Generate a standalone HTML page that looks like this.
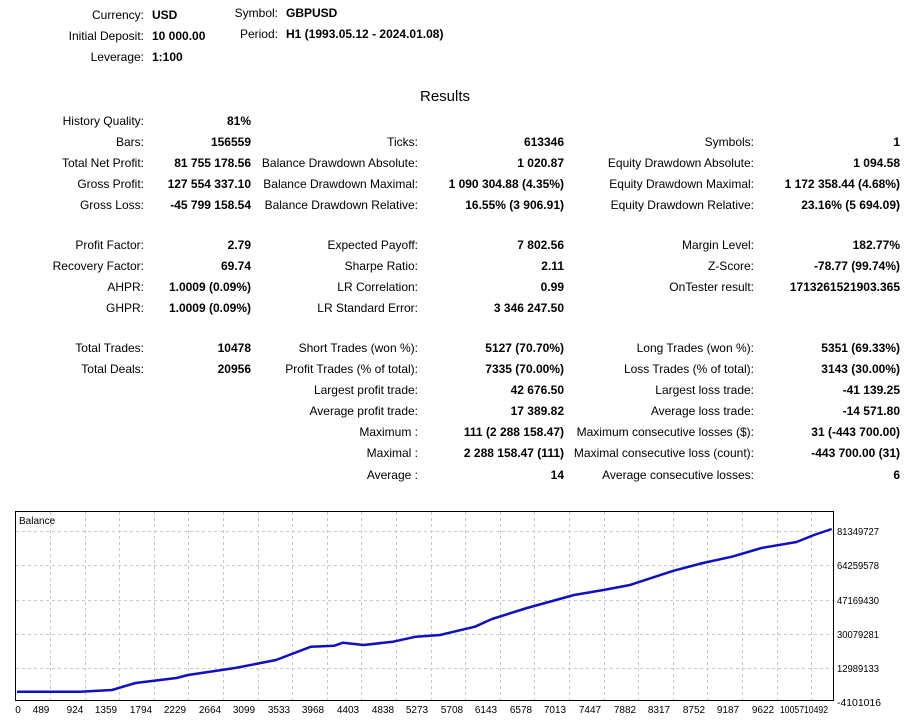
<!DOCTYPE html>
<html><head><meta charset="utf-8"><style>
body{margin:0;width:917px;height:720px;background:#fff;position:relative;overflow:hidden;font-family:"Liberation Sans",Arial,sans-serif;font-size:12px;color:#000}
div.t{position:absolute;line-height:14px;white-space:nowrap}
.b{font-weight:bold}
.l1{right:773px}.v1{right:666px}.l2{right:499px}.v2{right:353px}.l3{right:163px}.v3{right:17px}
</style></head><body>
<div class="t" style="right:773px;top:8px">Currency:</div><div class="t b" style="left:152px;top:8px">USD</div>
<div class="t" style="right:773px;top:29px">Initial Deposit:</div><div class="t b" style="left:152px;top:29px">10 000.00</div>
<div class="t" style="right:773px;top:50px">Leverage:</div><div class="t b" style="left:152px;top:50px">1:100</div>
<div class="t" style="right:639px;top:6px">Symbol:</div><div class="t b" style="left:286px;top:6px">GBPUSD</div>
<div class="t" style="right:639px;top:27px">Period:</div><div class="t b" style="left:286px;top:27px">H1 (1993.05.12 - 2024.01.08)</div>
<div class="t" style="left:0;width:890px;text-align:center;top:90px;font-size:15px">Results</div>

<div class="t l1" style="top:114px">History Quality:</div><div class="t b v1" style="top:114px">81%</div>

<div class="t l1" style="top:135px">Bars:</div><div class="t b v1" style="top:135px">156559</div>
<div class="t l2" style="top:135px">Ticks:</div><div class="t b v2" style="top:135px">613346</div>
<div class="t l3" style="top:135px">Symbols:</div><div class="t b v3" style="top:135px">1</div>

<div class="t l1" style="top:156px">Total Net Profit:</div><div class="t b v1" style="top:156px">81 755 178.56</div>
<div class="t l2" style="top:156px">Balance Drawdown Absolute:</div><div class="t b v2" style="top:156px">1 020.87</div>
<div class="t l3" style="top:156px">Equity Drawdown Absolute:</div><div class="t b v3" style="top:156px">1 094.58</div>

<div class="t l1" style="top:177px">Gross Profit:</div><div class="t b v1" style="top:177px">127 554 337.10</div>
<div class="t l2" style="top:177px">Balance Drawdown Maximal:</div><div class="t b v2" style="top:177px">1 090 304.88 (4.35%)</div>
<div class="t l3" style="top:177px">Equity Drawdown Maximal:</div><div class="t b v3" style="top:177px">1 172 358.44 (4.68%)</div>

<div class="t l1" style="top:198px">Gross Loss:</div><div class="t b v1" style="top:198px">-45 799 158.54</div>
<div class="t l2" style="top:198px">Balance Drawdown Relative:</div><div class="t b v2" style="top:198px">16.55% (3 906.91)</div>
<div class="t l3" style="top:198px">Equity Drawdown Relative:</div><div class="t b v3" style="top:198px">23.16% (5 694.09)</div>

<div class="t l1" style="top:238px">Profit Factor:</div><div class="t b v1" style="top:238px">2.79</div>
<div class="t l2" style="top:238px">Expected Payoff:</div><div class="t b v2" style="top:238px">7 802.56</div>
<div class="t l3" style="top:238px">Margin Level:</div><div class="t b v3" style="top:238px">182.77%</div>

<div class="t l1" style="top:259px">Recovery Factor:</div><div class="t b v1" style="top:259px">69.74</div>
<div class="t l2" style="top:259px">Sharpe Ratio:</div><div class="t b v2" style="top:259px">2.11</div>
<div class="t l3" style="top:259px">Z-Score:</div><div class="t b v3" style="top:259px">-78.77 (99.74%)</div>

<div class="t l1" style="top:280px">AHPR:</div><div class="t b v1" style="top:280px">1.0009 (0.09%)</div>
<div class="t l2" style="top:280px">LR Correlation:</div><div class="t b v2" style="top:280px">0.99</div>
<div class="t l3" style="top:280px">OnTester result:</div><div class="t b v3" style="top:280px">1713261521903.365</div>

<div class="t l1" style="top:301px">GHPR:</div><div class="t b v1" style="top:301px">1.0009 (0.09%)</div>
<div class="t l2" style="top:301px">LR Standard Error:</div><div class="t b v2" style="top:301px">3 346 247.50</div>

<div class="t l1" style="top:341px">Total Trades:</div><div class="t b v1" style="top:341px">10478</div>
<div class="t l2" style="top:341px">Short Trades (won %):</div><div class="t b v2" style="top:341px">5127 (70.70%)</div>
<div class="t l3" style="top:341px">Long Trades (won %):</div><div class="t b v3" style="top:341px">5351 (69.33%)</div>

<div class="t l1" style="top:362px">Total Deals:</div><div class="t b v1" style="top:362px">20956</div>
<div class="t l2" style="top:362px">Profit Trades (% of total):</div><div class="t b v2" style="top:362px">7335 (70.00%)</div>
<div class="t l3" style="top:362px">Loss Trades (% of total):</div><div class="t b v3" style="top:362px">3143 (30.00%)</div>

<div class="t l2" style="top:383px">Largest profit trade:</div><div class="t b v2" style="top:383px">42 676.50</div>
<div class="t l3" style="top:383px">Largest loss trade:</div><div class="t b v3" style="top:383px">-41 139.25</div>

<div class="t l2" style="top:404px">Average profit trade:</div><div class="t b v2" style="top:404px">17 389.82</div>
<div class="t l3" style="top:404px">Average loss trade:</div><div class="t b v3" style="top:404px">-14 571.80</div>

<div class="t l2" style="top:425px">Maximum :</div><div class="t b v2" style="top:425px">111 (2 288 158.47)</div>
<div class="t l3" style="top:425px">Maximum consecutive losses ($):</div><div class="t b v3" style="top:425px">31 (-443 700.00)</div>

<div class="t l2" style="top:446px">Maximal :</div><div class="t b v2" style="top:446px">2 288 158.47 (111)</div>
<div class="t l3" style="top:446px">Maximal consecutive loss (count):</div><div class="t b v3" style="top:446px">-443 700.00 (31)</div>

<div class="t l2" style="top:468px">Average :</div><div class="t b v2" style="top:468px">14</div>
<div class="t l3" style="top:468px">Average consecutive losses:</div><div class="t b v3" style="top:468px">6</div>

<svg style="position:absolute;left:0;top:0" width="917" height="720" font-family="'Liberation Sans',Arial,sans-serif" font-size="10">
<g stroke="#c8c8c8" stroke-dasharray="3,3" stroke-width="1">
<line x1="16" x2="833" y1="531.5" y2="531.5"/><line x1="16" x2="833" y1="565.5" y2="565.5"/><line x1="16" x2="833" y1="600.5" y2="600.5"/><line x1="16" x2="833" y1="634.5" y2="634.5"/><line x1="16" x2="833" y1="668.5" y2="668.5"/>
<line x1="50.5" x2="50.5" y1="512" y2="700"/><line x1="85.5" x2="85.5" y1="512" y2="700"/><line x1="119.5" x2="119.5" y1="512" y2="700"/><line x1="154.5" x2="154.5" y1="512" y2="700"/><line x1="188.5" x2="188.5" y1="512" y2="700"/><line x1="223.5" x2="223.5" y1="512" y2="700"/><line x1="258.5" x2="258.5" y1="512" y2="700"/><line x1="292.5" x2="292.5" y1="512" y2="700"/><line x1="327.5" x2="327.5" y1="512" y2="700"/><line x1="361.5" x2="361.5" y1="512" y2="700"/><line x1="396.5" x2="396.5" y1="512" y2="700"/><line x1="431.5" x2="431.5" y1="512" y2="700"/><line x1="465.5" x2="465.5" y1="512" y2="700"/><line x1="500.5" x2="500.5" y1="512" y2="700"/><line x1="534.5" x2="534.5" y1="512" y2="700"/><line x1="569.5" x2="569.5" y1="512" y2="700"/><line x1="604.5" x2="604.5" y1="512" y2="700"/><line x1="638.5" x2="638.5" y1="512" y2="700"/><line x1="673.5" x2="673.5" y1="512" y2="700"/><line x1="707.5" x2="707.5" y1="512" y2="700"/><line x1="742.5" x2="742.5" y1="512" y2="700"/><line x1="777.5" x2="777.5" y1="512" y2="700"/><line x1="811.5" x2="811.5" y1="512" y2="700"/>
</g>
<rect x="15.5" y="511.5" width="818" height="189" fill="none" stroke="#000"/>
<text x="19" y="524">Balance</text>
<polyline fill="none" stroke="#1010c0" stroke-width="2.5" stroke-linejoin="round" points="17,691.7 80,691.7 112,690 135.5,683 176.5,678 188,675 235,668 276,660 311,646.7 334.4,645.7 343,642.7 363.7,645 393,641.7 416,636.7 440,635 475,626.7 492,619 527,608 574,595 603.5,590 630,585 673.7,570.7 703,563 732,556.7 761.5,548 796.6,542 814,535 831.7,529"/>
<g text-anchor="start">
<text x="837" y="535" textLength="42" lengthAdjust="spacingAndGlyphs">81349727</text><text x="837" y="569" textLength="42" lengthAdjust="spacingAndGlyphs">64259578</text><text x="837" y="604" textLength="42" lengthAdjust="spacingAndGlyphs">47169430</text><text x="837" y="638" textLength="42" lengthAdjust="spacingAndGlyphs">30079281</text><text x="837" y="672" textLength="42" lengthAdjust="spacingAndGlyphs">12989133</text><text x="837" y="706" textLength="44" lengthAdjust="spacingAndGlyphs">-4101016</text>
</g>
<g text-anchor="middle">
<text x="18" y="713">0</text><text x="41" y="713">489</text><text x="75" y="713">924</text><text x="106" y="713">1359</text><text x="141" y="713">1794</text><text x="175" y="713">2229</text><text x="210" y="713">2664</text><text x="244" y="713">3099</text><text x="279" y="713">3533</text><text x="313" y="713">3968</text><text x="348" y="713">4403</text><text x="383" y="713">4838</text><text x="417" y="713">5273</text><text x="452" y="713">5708</text><text x="486" y="713">6143</text><text x="521" y="713">6578</text><text x="555" y="713">7013</text><text x="590" y="713">7447</text><text x="625" y="713">7882</text><text x="659" y="713">8317</text><text x="694" y="713">8752</text><text x="728" y="713">9187</text><text x="763" y="713">9622</text><text x="792" y="713" textLength="24" lengthAdjust="spacingAndGlyphs">10057</text><text x="816" y="713" textLength="24" lengthAdjust="spacingAndGlyphs">10492</text>
</g>
</svg>
</body></html>
